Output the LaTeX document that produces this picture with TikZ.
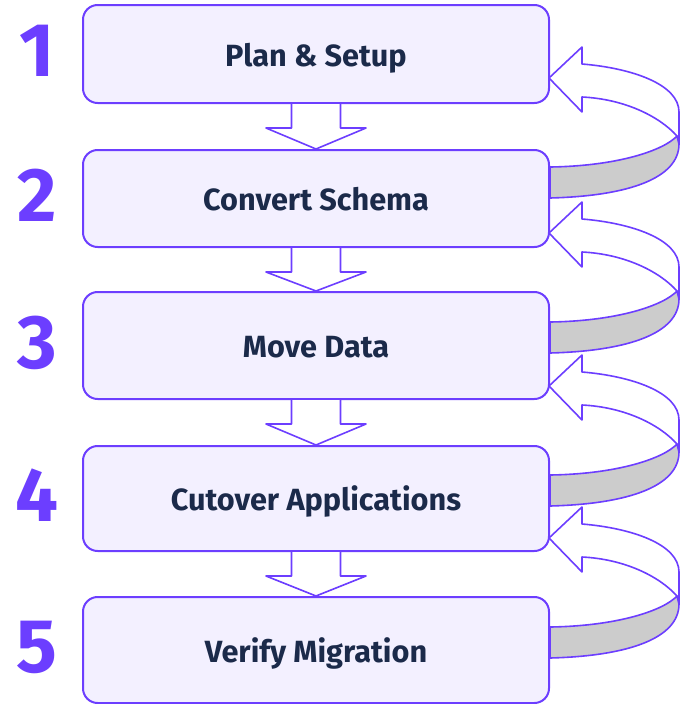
\documentclass[tikz,border=0pt]{standalone}
\usepackage{fontspec}
\setmainfont{Fira Sans}
\usepackage{tikz}
\usetikzlibrary{calc}
\definecolor{mypurple}{HTML}{6C3EFF}
\definecolor{myfill}{HTML}{F3F0FF}
\definecolor{mynavy}{HTML}{1B2A4A}
\definecolor{mygray}{HTML}{CCCCCC}

\begin{document}
\begin{tikzpicture}[x=0.75pt, y=-0.75pt, line join=round,
                stage/.style={draw=mypurple, fill=myfill, line width=1.5pt, rounded corners=11pt,
                    minimum width=349.5pt, text=mynavy, text height=22.5pt, text depth=4.4pt,
                    font=\fontsize{23}{26}\selectfont\bfseries},
                num/.style={text=mypurple, font=\fontsize{57}{60}\selectfont\bfseries},
                blockarrow/.style={draw=mypurple, fill=white, line width=1.2pt},
                band/.style={draw=mypurple, fill=mygray, line width=1.2pt}]
                \useasboundingbox (0,0) rectangle (682,704);

                \def\drawLoop{ % curved arrow back from stage \j to stage \i
                    \begin{scope}[shift={($(b\i.east)+(-1,\dy)$)}]
                        \draw[blockarrow] (0,0) -- (33,-31) -- (33,-14)
                        .. controls (82,-10) and (130,6) .. (130,34) -- (130,66) -- (128,58)
                        .. controls (110,38) and (75,21) .. (33,19) -- (33,34) -- cycle;
                        \draw[band] (1,89) .. controls (70,88) and (115,72) .. (128,58) -- (130,66)
                        .. controls (130,100) and (80,118) .. (1,120) -- cycle;
                    \end{scope}
                }

                % stages and their numbers
                \foreach \i/\cy/\h/\txt in {1/54/98/{Plan \& Setup}, 2/198.5/97/{Convert Schema},
                    3/345.5/107/{Move Data}, 4/498.5/105/{Cutover Applications}, 5/650/106/{Verify Migration}}{
                    \node[stage, minimum height=\h*0.75pt] (b\i) at (316,\cy) {\txt};
                    \node[num] (n\i) at (37,\cy-3) {\i};
                }

                % arrows down
                \foreach \i/\j in {1/2,2/3,3/4,4/5}{
                    \draw[blockarrow] ($(b\i.south)+(-24.5,0)$) -- ++(0,24) -- ++(-25.5,0) -- (b\j.north)
                    -- ($(b\i.south)+(50,24)$) -- ++(-25.5,0) -- ++(0,-24);
                }

                % arrows back up
                \foreach \i/\j/\dy in {1/2/24,2/3/34.5,3/4/40.5,4/5/39.5}{
                    \drawLoop
                }

            \end{tikzpicture}
\end{document}
